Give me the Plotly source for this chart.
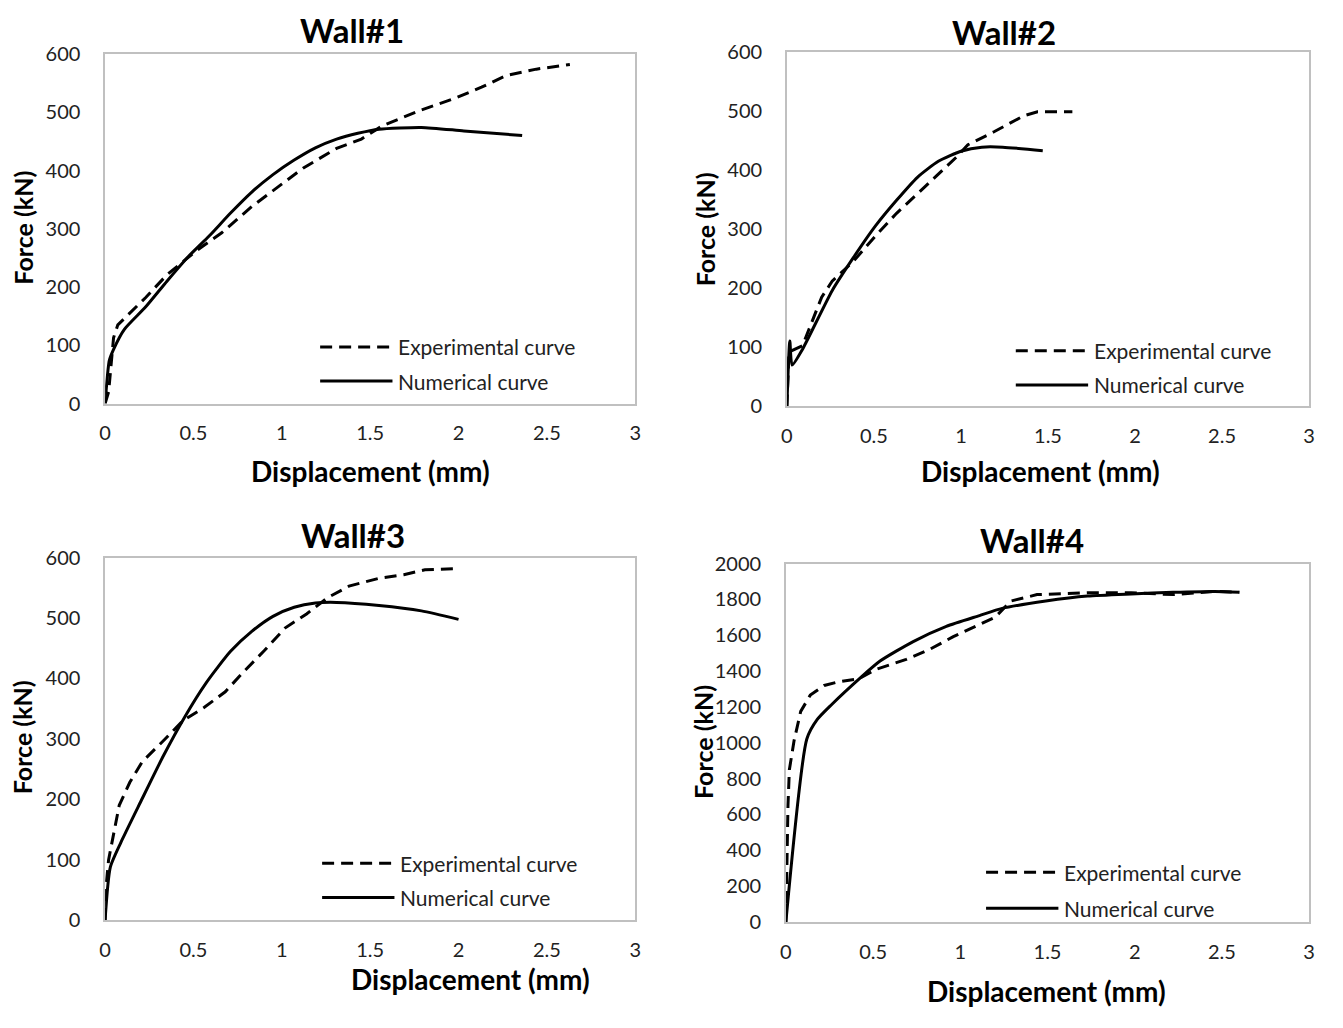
import plotly.graph_objects as go

# ---------------- data ----------------
titles = ["Wall#1", "Wall#2", "Wall#3", "Wall#4"]
x_label = "Displacement (mm)"
y_label = "Force (kN)"
exp_name = "Experimental curve"
num_name = "Numerical curve"

w1_exp_x = [0, 0.02, 0.048, 0.072, 0.23, 0.35, 0.52, 0.66, 0.83, 1.02, 1.12, 1.31, 1.45, 1.57, 1.79, 1.98, 2.13, 2.27, 2.44, 2.63]
w1_exp_y = [0, 20, 113, 135, 182, 221, 263, 293, 338, 382, 404, 438, 454, 477, 504, 524, 543, 563, 574, 582]
w1_num_x = [0, 0.024, 0.048, 0.108, 0.23, 0.35, 0.47, 0.59, 0.71, 0.83, 0.95, 1.07, 1.19, 1.31, 1.43, 1.55, 1.79, 2.03, 2.36]
w1_num_y = [0, 74, 93, 127, 166, 210, 252, 288, 327, 363, 393, 418, 439, 454, 464, 471, 474, 468, 460]

w2_exp_x = [0, 0.012, 0.09, 0.14, 0.2, 0.26, 0.38, 0.51, 0.63, 0.75, 0.87, 0.97, 1.04, 1.19, 1.36, 1.44, 1.64]
w2_exp_y = [0, 92, 103, 141, 185, 212, 245, 289, 327, 360, 393, 421, 443, 465, 492, 499, 499]
w2_num_x = [0, 0.017, 0.03, 0.09, 0.26, 0.38, 0.51, 0.63, 0.75, 0.87, 1.0, 1.12, 1.24, 1.47]
w2_num_y = [0, 111, 70, 97, 196, 251, 306, 349, 388, 415, 432, 439, 439, 433]

w3_exp_x = [0, 0.005, 0.02, 0.045, 0.08, 0.14, 0.21, 0.32, 0.44, 0.56, 0.68, 0.78, 0.9, 1.02, 1.14, 1.26, 1.38, 1.55, 1.69, 1.81, 1.99]
w3_exp_y = [0, 55, 100, 140, 190, 228, 262, 294, 330, 352, 378, 410, 446, 484, 507, 534, 553, 566, 572, 580, 582]
w3_num_x = [0, 0.03, 0.1, 0.2, 0.33, 0.45, 0.57, 0.71, 0.83, 0.95, 1.07, 1.19, 1.31, 1.55, 1.79, 2.0]
w3_num_y = [0, 88, 135, 195, 272, 336, 392, 445, 478, 503, 518, 525, 526, 521, 512, 498]

w4_exp_x = [0, 0.005, 0.012, 0.02, 0.047, 0.085, 0.14, 0.22, 0.3, 0.42, 0.52, 0.69, 0.82, 0.96, 1.1, 1.2, 1.29, 1.44, 1.73, 1.98, 2.22, 2.46, 2.6]
w4_exp_y = [0, 300, 650, 850, 1012, 1175, 1266, 1320, 1340, 1358, 1411, 1465, 1519, 1592, 1655, 1701, 1791, 1827, 1837, 1837, 1827, 1845, 1840]
w4_num_x = [0, 0.12, 0.18, 0.26, 0.43, 0.54, 0.73, 0.92, 1.11, 1.24, 1.49, 1.73, 1.98, 2.22, 2.46, 2.6]
w4_num_y = [0, 1021, 1130, 1211, 1365, 1456, 1565, 1650, 1710, 1750, 1791, 1819, 1831, 1840, 1845, 1840]

x_ticks = [0, 0.5, 1, 1.5, 2, 2.5, 3]
y_ticks_small = [0, 100, 200, 300, 400, 500, 600]
y_ticks_big = [0, 200, 400, 600, 800, 1000, 1200, 1400, 1600, 1800, 2000]

# ---------------- layout helpers ----------------
PAGE_W, PAGE_H = 1343, 1028
OFF = 8  # default page body margin
W, H = PAGE_W - 2 * OFF, PAGE_H - 2 * OFF
FONT = "Lato, 'Open Sans', sans-serif"


def fx(px):
    return (px - OFF) / W


def fy(py):
    return 1 - (py - OFF) / H


panels = [
    dict(exp=(w1_exp_x, w1_exp_y), num=(w1_num_x, w1_num_y), xd=(108, 643), yd=(50, 408), yr=600, yt=y_ticks_small,
         title=(357, 25), xt=(376, 477), ytl=(25, 228), leg=(325, 350, 385)),
    dict(exp=(w2_exp_x, w2_exp_y), num=(w2_num_x, w2_num_y), xd=(796, 1323), yd=(48, 411), yr=600, yt=y_ticks_small,
         title=(1015, 27), xt=(1052, 477), ytl=(713, 230), leg=(1027, 354, 389)),
    dict(exp=(w3_exp_x, w3_exp_y), num=(w3_num_x, w3_num_y), xd=(108, 643), yd=(566, 937), yr=600, yt=y_ticks_small,
         title=(358, 543), xt=(477, 997), ytl=(25, 750), leg=(327, 879, 914)),
    dict(exp=(w4_exp_x, w4_exp_y), num=(w4_num_x, w4_num_y), xd=(795, 1323), yd=(572, 939), yr=2000, yt=y_ticks_big,
         title=(1043, 548), xt=(1058, 1010), ytl=(712, 755), leg=(997, 888, 925)),
]

fig = go.Figure()
annotations = []
shapes = []

for i, p in enumerate(panels):
    n = i + 1
    xa = "x" if n == 1 else f"x{n}"
    ya = "y" if n == 1 else f"y{n}"
    fig.add_trace(go.Scatter(x=p["exp"][0], y=p["exp"][1], mode="lines", name=exp_name,
                             line=dict(color="black", width=3, dash="12px,7px"),
                             xaxis=xa, yaxis=ya, showlegend=False))
    fig.add_trace(go.Scatter(x=p["num"][0], y=p["num"][1], mode="lines", name=num_name,
                             line=dict(color="black", width=3, shape="spline", smoothing=0.6),
                             xaxis=xa, yaxis=ya, showlegend=False))
    axis_common = dict(showgrid=False, zeroline=False, showline=True, mirror=True,
                       linecolor="#c0c0c0", linewidth=1.5,
                       tickfont=dict(family=FONT, size=20, color="#222"),
                       ticks="outside", tickcolor="rgba(0,0,0,0)")
    xkey = "xaxis" if n == 1 else f"xaxis{n}"
    ykey = "yaxis" if n == 1 else f"yaxis{n}"
    fig.update_layout(**{
        xkey: dict(domain=[fx(p["xd"][0]), fx(p["xd"][1])], range=[0, 3], tickvals=x_ticks,
                   ticktext=[f"{v:g}" for v in x_ticks], anchor=ya, ticklen=11, **axis_common),
        ykey: dict(domain=[fy(p["yd"][1]), fy(p["yd"][0])], range=[0, p["yr"]], tickvals=p["yt"],
                   anchor=xa, ticklen=19, **axis_common),
    })
    # titles
    annotations.append(dict(text=f"<b>{titles[i]}</b>", x=fx(p["title"][0]), y=fy(p["title"][1]),
                            xref="paper", yref="paper", showarrow=False, xanchor="center", yanchor="middle",
                            font=dict(family=FONT, size=33, color="black")))
    annotations.append(dict(text=f"<b>{x_label}</b>", x=fx(p["xt"][0]), y=fy(p["xt"][1]),
                            xref="paper", yref="paper", showarrow=False, xanchor="center", yanchor="middle",
                            font=dict(family=FONT, size=28, color="black")))
    annotations.append(dict(text=f"<b>{y_label}</b>", x=fx(p["ytl"][0]), y=fy(p["ytl"][1]),
                            xref="paper", yref="paper", showarrow=False, xanchor="center", yanchor="middle",
                            textangle=-90, font=dict(family=FONT, size=25, color="black")))
    # legend keys
    lx, ly1, ly2 = p["leg"]
    shapes.append(dict(type="line", xref="paper", yref="paper", x0=fx(lx), x1=fx(lx + 73),
                       y0=fy(ly1), y1=fy(ly1), line=dict(color="black", width=3, dash="12px,7px")))
    shapes.append(dict(type="line", xref="paper", yref="paper", x0=fx(lx), x1=fx(lx + 73),
                       y0=fy(ly2), y1=fy(ly2), line=dict(color="black", width=3)))
    annotations.append(dict(text=exp_name, x=fx(lx + 77), y=fy(ly1), xref="paper", yref="paper",
                            showarrow=False, xanchor="left", yanchor="middle",
                            font=dict(family=FONT, size=21, color="#222")))
    annotations.append(dict(text=num_name, x=fx(lx + 77), y=fy(ly2), xref="paper", yref="paper",
                            showarrow=False, xanchor="left", yanchor="middle",
                            font=dict(family=FONT, size=21, color="#222")))

fig.update_layout(width=W, height=H, margin=dict(l=0, r=0, t=0, b=0),
                  paper_bgcolor="white", plot_bgcolor="white",
                  annotations=annotations, shapes=shapes, showlegend=False)

fig.write_html("out.html")
